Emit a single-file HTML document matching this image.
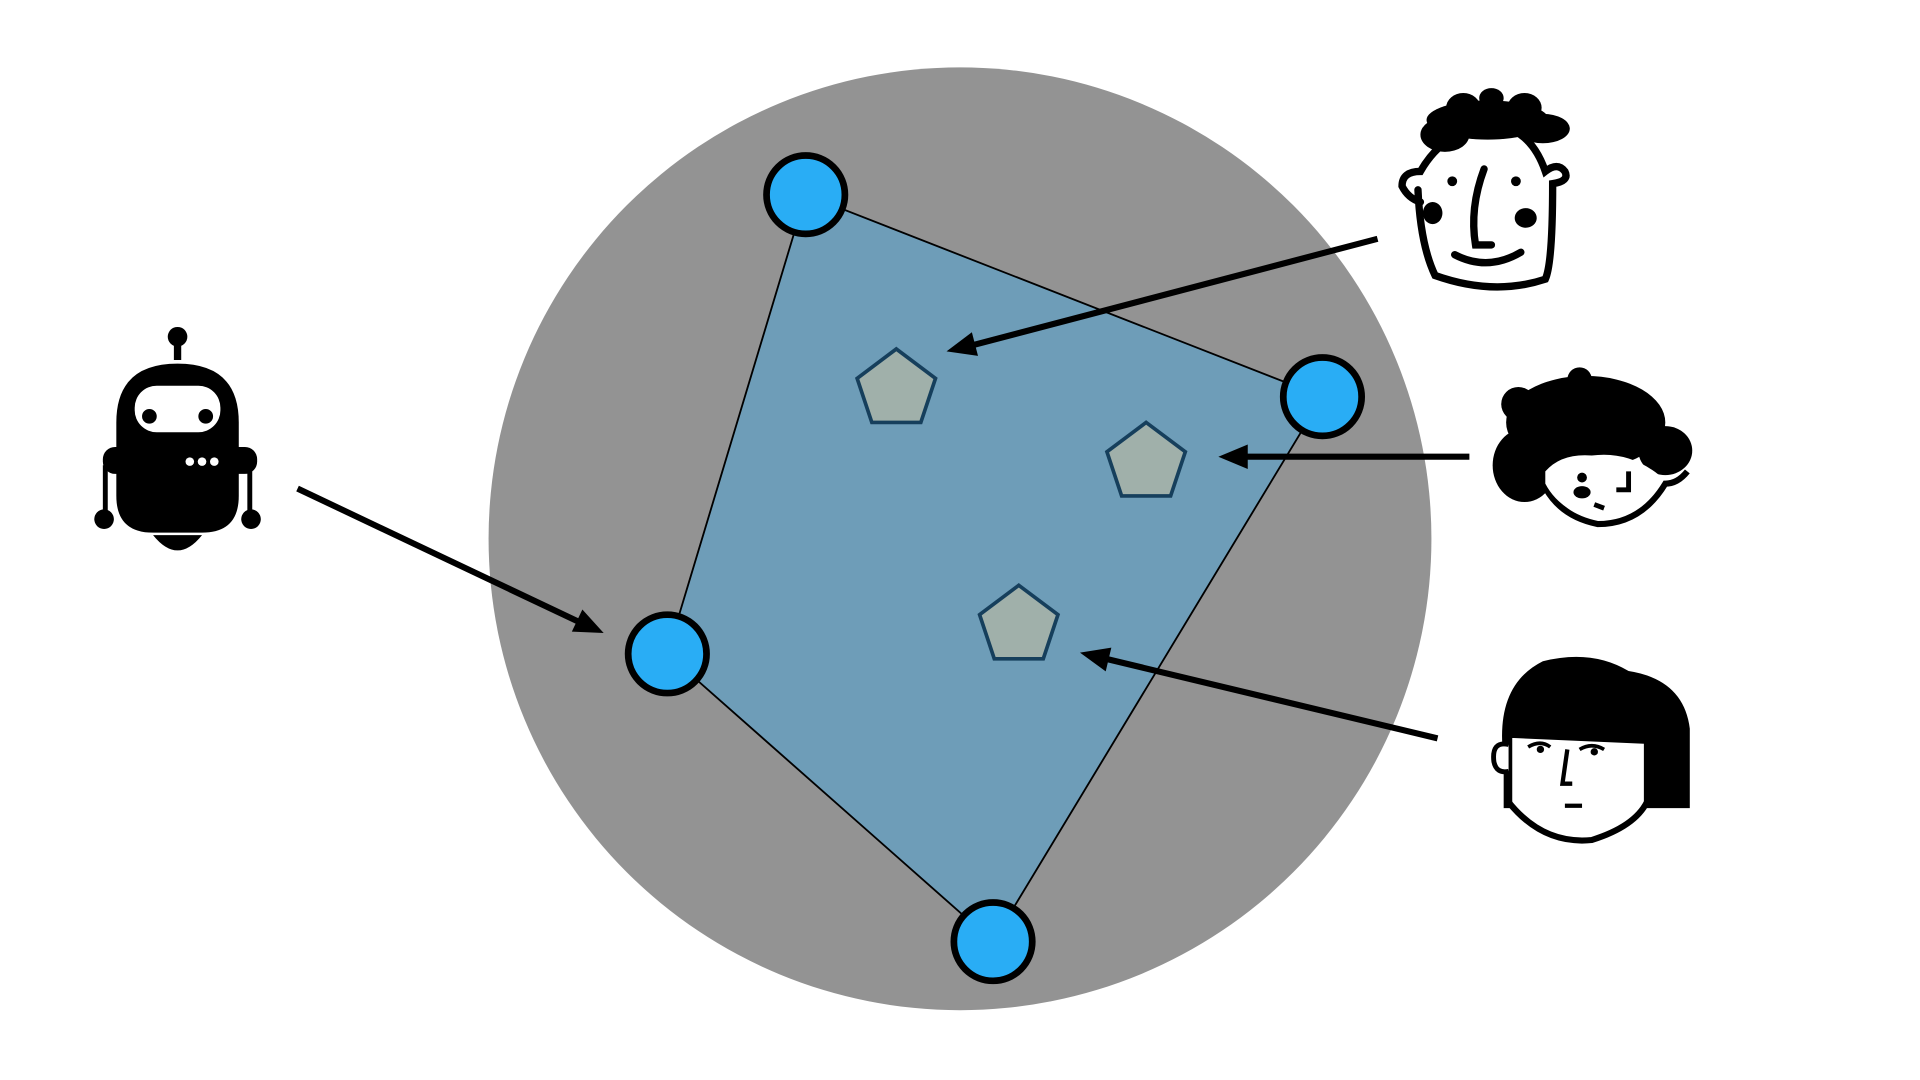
<!DOCTYPE html>
<html><head><meta charset="utf-8"><style>html,body{margin:0;padding:0;background:#fff;}svg{display:block}</style></head>
<body>
<svg width="1920" height="1080" viewBox="0 0 1568 882" xmlns="http://www.w3.org/2000/svg">
<rect width="1568" height="882" fill="#fff"/>
<circle cx="784" cy="440" r="385" fill="#939393"/>
<polygon points="658,159 1080,324 811,769 545,534" fill="#6e9db8" stroke="#000" stroke-width="1.5"/>
<g fill="#a0b0aa" stroke="#163f5c" stroke-width="3">
<polygon points="732,285 764,309 752,345 712,345 700,309"/>
<polygon points="936,345 968,369 956,405 916,405 904,369"/>
<polygon points="832,478 864,502 852,538 812,538 800,502"/>
</g>
<g fill="#29adf5" stroke="#000" stroke-width="5.5">
<circle cx="658" cy="159" r="32"/>
<circle cx="1080" cy="324" r="32"/>
<circle cx="545" cy="534" r="32"/>
<circle cx="811" cy="769" r="32"/>
</g>
<g stroke="#000" stroke-width="5" fill="none">
<line x1="243" y1="399" x2="473" y2="508"/>
<line x1="1125" y1="195" x2="794" y2="282"/>
<line x1="1200" y1="373" x2="1017" y2="373"/>
<line x1="1174" y1="603" x2="903" y2="538"/>
</g>
<g fill="#000">
<polygon points="493,517 467,515.8 475.6,497.8"/>
<polygon points="773,287 793.7,271.3 798.7,290.6"/>
<polygon points="995,373 1019,363 1019,383"/>
<polygon points="882,533 907.6,528.9 903,548.3"/>
</g>
<!-- robot -->
<g>
<circle cx="145" cy="275" r="8" fill="#000"/>
<rect x="142" y="280" width="6" height="14" fill="#000"/>
<path d="M95,345 Q95,297 145,297 Q195,297 195,345 L195,405 Q195,435 165,435 L125,435 Q95,435 95,405 Z" fill="#000"/>
<rect x="84" y="365" width="126" height="22" rx="10" fill="#000"/>
<rect x="110" y="315" width="70" height="38" rx="18" fill="#fff"/>
<circle cx="122" cy="340" r="6" fill="#000"/><circle cx="168" cy="340" r="6" fill="#000"/>
<circle cx="155" cy="377" r="3.5" fill="#fff"/><circle cx="165" cy="377" r="3.5" fill="#fff"/><circle cx="175" cy="377" r="3.5" fill="#fff"/>
<line x1="86" y1="380" x2="86" y2="420" stroke="#000" stroke-width="4"/>
<line x1="204" y1="380" x2="204" y2="420" stroke="#000" stroke-width="4"/>
<circle cx="85" cy="424" r="8" fill="#000"/><circle cx="205" cy="424" r="8" fill="#000"/>
<path d="M125,437 Q145,462 165,437 Z" fill="#000"/>
</g>
<!-- face 1 -->
<g stroke="#000" stroke-width="6" fill="none" stroke-linecap="round">
<path d="M1158,155 Q1160,200 1172,225 Q1220,242 1262,228 Q1268,215 1268,150 Q1282,148 1278,140 Q1272,132 1262,140 Q1250,105 1220,102 Q1180,105 1160,140 Q1145,140 1145,152 Q1150,162 1160,165" fill="#fff"/>
<path d="M1212,138 Q1200,170 1205,200 L1218,200"/>
<path d="M1188,208 Q1215,222 1242,206"/>
</g>
<g fill="#000">
<ellipse cx="1215" cy="98" rx="50" ry="16"/><ellipse cx="1180" cy="110" rx="20" ry="14"/><ellipse cx="1260" cy="105" rx="22" ry="12"/>
<ellipse cx="1195" cy="88" rx="14" ry="12"/><ellipse cx="1245" cy="88" rx="14" ry="12"/><ellipse cx="1218" cy="80" rx="10" ry="8"/>
<circle cx="1186" cy="148" r="4"/><circle cx="1238" cy="148" r="4"/>
<ellipse cx="1246" cy="178" rx="9" ry="8"/><ellipse cx="1170" cy="174" rx="8" ry="9"/>
</g>
<!-- face 2 -->
<g>
<path d="M1255,380 Q1265,420 1305,428 Q1340,428 1360,395 Q1370,395 1378,385" stroke="#000" stroke-width="5" fill="#fff"/>
<ellipse cx="1295" cy="345" rx="65" ry="38" fill="#000"/>
<ellipse cx="1245" cy="380" rx="26" ry="30" fill="#000"/>
<ellipse cx="1360" cy="368" rx="22" ry="20" fill="#000"/>
<circle cx="1240" cy="330" r="14" fill="#000"/><circle cx="1290" cy="310" r="10" fill="#000"/>
<path d="M1262,385 Q1275,370 1300,372 Q1330,368 1355,388 Q1345,420 1310,425 Q1275,420 1262,395 Z" fill="#fff"/>
<circle cx="1292" cy="390" r="4" fill="#000"/><ellipse cx="1292" cy="402" rx="7" ry="5" fill="#000"/>
<path d="M1320,400 L1330,400 L1330,385" stroke="#000" stroke-width="4" fill="none"/>
<path d="M1302,412 L1310,415" stroke="#000" stroke-width="4"/>
</g>
<!-- face 3 -->
<g>
<path d="M1232,600 L1232,655 Q1260,690 1300,686 Q1335,675 1345,655 L1345,605 Z" stroke="#000" stroke-width="5" fill="#fff"/>
<path d="M1228,620 Q1220,560 1260,540 Q1300,530 1330,548 Q1375,555 1380,595 L1380,660 L1345,660 L1345,605 L1235,598 L1235,660 L1228,660 Z" fill="#000"/>
<path d="M1232,608 Q1218,605 1220,622 Q1222,632 1232,630" stroke="#000" stroke-width="4" fill="#fff"/>
<path d="M1248,610 Q1258,604 1266,610 M1290,612 Q1300,606 1310,612" stroke="#000" stroke-width="3" fill="none"/>
<circle cx="1258" cy="612" r="3" fill="#000"/><circle cx="1302" cy="614" r="3" fill="#000"/>
<path d="M1280,612 L1276,640 L1284,640 M1278,658 L1292,658" stroke="#000" stroke-width="3.5" fill="none"/>
</g>
</svg>
</body></html>
